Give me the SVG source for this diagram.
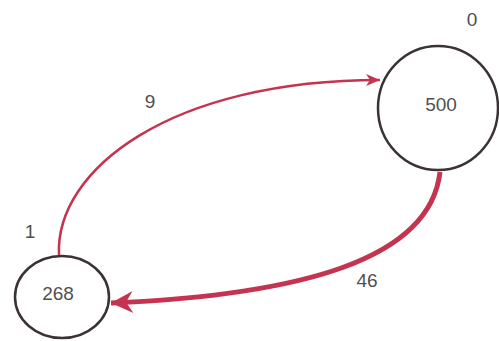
<svg xmlns="http://www.w3.org/2000/svg" width="499" height="341" viewBox="0 0 499 341">
<style>
.node{fill:#fff;stroke:#3a3234;stroke-width:2.5}
.lbl{font-family:"Liberation Sans",Arial,sans-serif;font-size:19px;fill:#505050;text-anchor:middle;dominant-baseline:central}
.edge{fill:none;stroke:#c43450}
</style>
<defs>
<marker id="ah1" markerUnits="userSpaceOnUse" markerWidth="16" markerHeight="14" refX="14" refY="7" orient="auto" viewBox="0 0 16 14">
<path d="M0,1 L14,7 L0,13 L4,7 Z" fill="#c43450"/>
</marker>
<marker id="ah2" markerUnits="userSpaceOnUse" markerWidth="26" markerHeight="24" refX="24" refY="12" orient="auto" viewBox="0 0 26 24">
<path d="M2,1 L24,12 L2,23 L9,12 Z" fill="#c43450"/>
</marker>
</defs>
<rect width="499" height="341" fill="#fff"/>
<g id="edges">
<path class="edge" stroke-width="2.5" d="M59,255 C55,170 170,80 380,80" marker-end="url(#ah1)"/>
<path class="edge" stroke-width="5" d="M440,172 C430,260 300,295 111,303" marker-end="url(#ah2)"/>
<text class="lbl" x="150" y="101">9</text>
<text class="lbl" x="367" y="280">46</text>
</g>
<g id="n500">
<ellipse class="node" cx="438" cy="108" rx="60" ry="62"/>
<text class="lbl" x="441" y="104">500</text>
<text class="lbl" x="472" y="19">0</text>
</g>
<g id="n268">
<ellipse class="node" cx="62" cy="297" rx="47" ry="41"/>
<text class="lbl" x="58" y="293">268</text>
<text class="lbl" x="30" y="231">1</text>
</g>
</svg>
